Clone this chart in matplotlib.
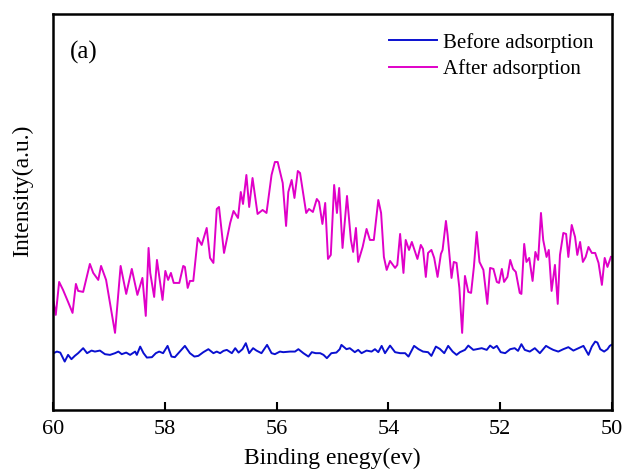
import matplotlib
matplotlib.use("Agg")
import matplotlib.pyplot as plt

plt.rcParams['font.family'] = ['Liberation Serif', 'DejaVu Serif']

# Binding energy (eV) and intensity (a.u.) before adsorption
be_before = [59.99, 59.93, 59.87, 59.79, 59.73, 59.67, 59.61, 59.55, 59.46, 59.39,
             59.31, 59.25, 59.16, 59.07, 58.98, 58.89, 58.83, 58.77, 58.69, 58.62,
             58.53, 58.50, 58.44, 58.38, 58.32, 58.23, 58.16, 58.10, 58.03, 57.95,
             57.88, 57.82, 57.73, 57.64, 57.55, 57.47, 57.40, 57.31, 57.22, 57.13,
             57.07, 57.01, 56.95, 56.89, 56.80, 56.74, 56.68, 56.61, 56.55, 56.49,
             56.42, 56.36, 56.27, 56.17, 56.09, 56.03, 55.94, 55.88, 55.76, 55.67,
             55.61, 55.52, 55.43, 55.37, 55.30, 55.22, 55.16, 55.10, 55.02, 54.93,
             54.87, 54.84, 54.75, 54.69, 54.60, 54.54, 54.48, 54.39, 54.30, 54.24,
             54.18, 54.12, 54.06, 53.97, 53.88, 53.79, 53.70, 53.64, 53.54, 53.46,
             53.38, 53.29, 53.23, 53.15, 53.08, 53.00, 52.93, 52.85, 52.78, 52.72,
             52.63, 52.57, 52.48, 52.42, 52.33, 52.24, 52.18, 52.12, 52.06, 51.99,
             51.91, 51.82, 51.74, 51.68, 51.62, 51.56, 51.47, 51.38, 51.29, 51.18,
             51.11, 51.05, 50.96, 50.87, 50.78, 50.69, 50.60, 50.51, 50.42, 50.36,
             50.30, 50.26, 50.21, 50.14, 50.08, 50.04, 50.01]
int_before = [56.7, 58.3, 57.3, 48.3, 55.0, 50.7, 54.0, 56.7, 61.7, 56.7,
              59.3, 58.3, 59.3, 55.7, 55.0, 56.7, 58.3, 55.7, 57.3, 55.0,
              58.3, 55.0, 63.3, 56.7, 52.3, 52.7, 56.7, 58.3, 56.7, 64.0,
              53.3, 52.7, 58.3, 64.0, 56.7, 53.3, 54.0, 57.7, 60.7, 56.7,
              58.3, 56.7, 59.0, 60.0, 56.7, 61.7, 57.3, 60.7, 66.7, 56.7,
              61.7, 59.3, 56.7, 65.0, 56.7, 55.7, 58.3, 57.7, 58.3, 58.3,
              60.7, 56.7, 53.3, 57.7, 56.7, 56.7, 55.0, 51.7, 56.7, 57.3,
              60.7, 65.0, 60.7, 61.7, 57.7, 60.0, 56.7, 59.3, 58.3, 60.7,
              57.7, 64.0, 56.7, 64.3, 57.7, 56.7, 56.7, 53.3, 64.0, 60.7,
              58.3, 57.7, 54.0, 63.3, 61.0, 56.7, 64.0, 58.3, 55.0, 57.7,
              60.0, 64.3, 60.0, 60.7, 61.7, 60.0, 64.3, 61.7, 64.0, 57.7,
              56.7, 60.7, 61.7, 59.0, 65.7, 60.0, 58.3, 61.7, 56.7, 64.0,
              61.7, 60.0, 58.3, 60.7, 62.7, 59.3, 61.7, 64.0, 55.0, 63.3,
              68.3, 67.3, 60.7, 58.3, 60.7, 64.0, 65.0]

# Binding energy (eV) and intensity (a.u.) after adsorption
be_after = [59.99, 59.95, 59.89, 59.82, 59.73, 59.65, 59.59, 59.55, 59.46, 59.34,
            59.28, 59.19, 59.14, 59.05, 58.89, 58.79, 58.69, 58.59, 58.49, 58.40,
            58.34, 58.29, 58.26, 58.19, 58.14, 58.04, 57.99, 57.94, 57.89, 57.84,
            57.74, 57.67, 57.64, 57.59, 57.55, 57.49, 57.41, 57.34, 57.25, 57.19,
            57.13, 57.07, 57.03, 56.94, 56.83, 56.77, 56.69, 56.64, 56.60, 56.54,
            56.49, 56.43, 56.34, 56.25, 56.18, 56.09, 56.03, 55.98, 55.89, 55.83,
            55.79, 55.73, 55.68, 55.62, 55.58, 55.47, 55.42, 55.35, 55.28, 55.24,
            55.18, 55.13, 55.08, 55.03, 54.97, 54.92, 54.88, 54.82, 54.74, 54.67,
            54.63, 54.58, 54.54, 54.46, 54.39, 54.33, 54.26, 54.18, 54.13, 54.08,
            54.03, 53.97, 53.88, 53.84, 53.79, 53.73, 53.69, 53.63, 53.58, 53.48,
            53.42, 53.38, 53.33, 53.29, 53.23, 53.18, 53.12, 53.06, 53.03, 52.97,
            52.94, 52.87, 52.83, 52.78, 52.73, 52.68, 52.63, 52.57, 52.52, 52.47,
            52.42, 52.37, 52.30, 52.23, 52.18, 52.12, 52.06, 52.02, 51.97, 51.93,
            51.87, 51.82, 51.77, 51.72, 51.65, 51.62, 51.57, 51.53, 51.48, 51.42,
            51.37, 51.32, 51.27, 51.23, 51.17, 51.13, 51.08, 51.02, 50.97, 50.93,
            50.87, 50.82, 50.78, 50.72, 50.66, 50.62, 50.57, 50.52, 50.47, 50.42,
            50.36, 50.30, 50.24, 50.18, 50.13, 50.08, 50.02]
int_after = [108, 95, 128, 120, 108, 97, 126, 119, 118, 146,
             137, 130, 144, 130, 77, 144, 116, 141, 115, 132,
             94, 162, 137, 113, 150, 110, 139, 130, 137, 127,
             127, 144, 143, 122, 129, 129, 172, 165, 182, 152,
             147, 201, 203, 157, 187, 199, 192, 218, 206, 235,
             203, 232, 196, 200, 197, 235, 248, 248, 227, 184,
             218, 230, 212, 239, 237, 197, 201, 198, 211, 208,
             186, 207, 151, 155, 225, 197, 222, 162, 214, 170,
             158, 182, 148, 163, 181, 170, 170, 210, 197, 153,
             140, 149, 142, 145, 176, 137, 170, 160, 168, 151,
             165, 161, 133, 157, 160, 152, 133, 156, 160, 189,
             175, 132, 148, 147, 122, 77, 134, 118, 117, 143,
             178, 148, 140, 106, 142, 141, 128, 127, 141, 128,
             133, 150, 141, 138, 117, 116, 166, 148, 152, 129,
             158, 150, 197, 170, 153, 160, 119, 145, 106, 155,
             177, 176, 153, 185, 173, 155, 168, 148, 153, 163,
             157, 157, 147, 125, 152, 143, 153]

x_ticks = [60, 58, 56, 54, 52, 50]

fig = plt.figure(figsize=(6.27, 4.70), dpi=100)
ax = fig.add_axes([0.0845, 0.128, 0.8915, 0.842])

ax.plot(be_before, int_before, color='#0a10d0', lw=1.4, label='Before adsorption')
ax.plot(be_after, int_after, color='#e000c8', lw=1.4, label='After adsorption')

ax.set_xlim(60, 50)
ax.set_ylim(0, 396)
ax.set_xticks(x_ticks)
ax.set_xticklabels([str(t) for t in x_ticks])
ax.set_yticks([])
ax.tick_params(axis='x', direction='in', length=6, width=1.5, labelsize=16, pad=7)
for s in ax.spines.values():
    s.set_linewidth(1.8)

ax.set_xlabel('Binding enegy(ev)', fontsize=17, labelpad=6.5)
ax.set_ylabel('Intensity(a.u.)', fontsize=17)
ax.yaxis.set_label_coords(-0.036, 0.553)
ax.text(0.031, 0.903, '(a)', transform=ax.transAxes, fontsize=18, va='center', ha='left')

ax.legend(loc='upper right', frameon=False, fontsize=15, handlelength=2.3,
          handletextpad=0.28, labelspacing=0.3, borderaxespad=0.5,
          borderpad=0.4, bbox_to_anchor=(1.0, 1.0))

fig.savefig('out.png', dpi=100, facecolor='white')
